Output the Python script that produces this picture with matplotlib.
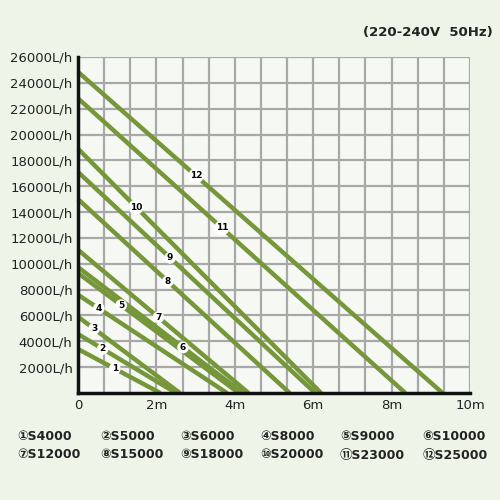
import matplotlib
matplotlib.use("Agg")
import matplotlib.pyplot as plt
import numpy as np

labels = ["1","2","3","4","5","6","7","8","9","10","11","12"]
models = ["①S4000","②S5000","③S6000","④S8000","⑤S9000","⑥S10000",
          "⑦S12000","⑧S15000","⑨S18000","⑩S20000","⑪S23000","⑫S25000"]
max_flow = [3400, 4560, 5900, 7600, 9280, 9740, 11080, 15000, 17100, 18900, 22800, 24850]
max_head = [2.1, 2.5, 2.6, 3.8, 4.1, 4.2, 4.35, 5.4, 6.05, 6.2, 8.35, 9.3]
label_x = [0.94, 0.63, 0.41, 0.53, 1.1, 2.68, 2.05, 2.29, 2.35, 1.48, 3.67, 3.01]
yticks = list(range(2000, 26001, 2000))
xtick_vals = [0, 2, 4, 6, 8, 10]
xtick_text = ["0", "2m", "4m", "6m", "8m", "10m"]

fig = plt.figure(figsize=(5, 5), dpi=100, facecolor="#eef5e8")
ax = fig.add_axes([0.156, 0.214, 0.784, 0.672])
ax.set_facecolor("#f6f9f3")
ax.set_xlim(0, 10)
ax.set_ylim(0, 26000)
for v in np.linspace(0, 10, 16)[1:]:
    ax.axvline(v, color="#a8a8a8", lw=1.6, zorder=1)
for v in np.linspace(0, 26000, 14)[1:]:
    ax.axhline(v, color="#a8a8a8", lw=1.6, zorder=1)
col = "#76963a"
for q, h, lab, lx in zip(max_flow, max_head, labels, label_x):
    ax.plot([0, h], [q, 0], color=col, lw=3.2, solid_capstyle="butt", zorder=2, clip_on=False)
    ly = q * (1 - lx / h)
    ax.text(lx, ly, lab, fontsize=6.5, fontweight="bold", ha="center", va="center", zorder=3,
            bbox=dict(boxstyle="circle,pad=0.15", fc="white", ec="none"))
for s in ["top", "right"]:
    ax.spines[s].set_visible(False)
for s in ["left", "bottom"]:
    ax.spines[s].set_linewidth(2.5)
    ax.spines[s].set_color("#111111")
ax.set_yticks(yticks)
ax.set_yticklabels([f"{v}L/h" for v in yticks], fontsize=9.5, color="#222222")
ax.set_xticks(xtick_vals)
ax.set_xticklabels(xtick_text, fontsize=9.5, color="#222222")
ax.tick_params(length=0, pad=4)
fig.text(0.985, 0.935, "(220-240V  50Hz)", ha="right", va="center", fontsize=9.5, fontweight="bold", color="#222222")
xs = [0.035, 0.2, 0.36, 0.52, 0.68, 0.845]
for i, m in enumerate(models):
    fig.text(xs[i % 6], 0.127 if i < 6 else 0.09, m, fontsize=9, fontweight="bold",
             color="#222222", va="center", family=["DejaVu Sans", "Noto Sans CJK SC"])
fig.savefig("out.png", dpi=100, facecolor=fig.get_facecolor())
